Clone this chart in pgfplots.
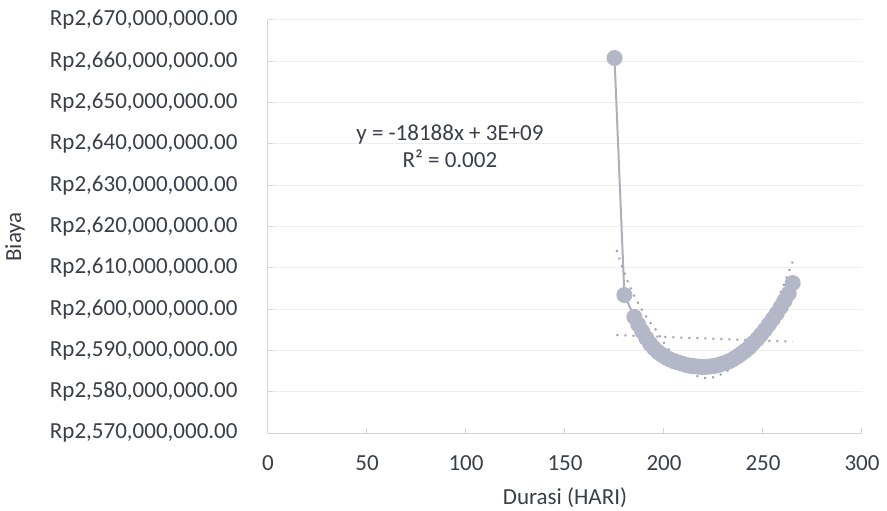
\documentclass[border=0pt]{standalone}
\usepackage{pgfplots}
\pgfplotsset{compat=1.18}
\usepackage{fontspec}
\setmainfont{Carlito}
\definecolor{txt}{HTML}{3A3E4B}
\definecolor{mk}{HTML}{B3B7C8}
\definecolor{ln}{HTML}{ABAFBF}
\definecolor{tr}{HTML}{9EA1AC}
\definecolor{grd}{HTML}{EEEEEE}
\definecolor{axl}{HTML}{D4D4D4}
\newcommand{\cf}{\fontsize{23bp}{27bp}\selectfont}
\begin{document}
\begin{tikzpicture}
\begin{axis}[
  scale only axis, width=594bp, height=413bp,
  xmin=0, xmax=300, ymin=2570000000, ymax=2670000000,
  xtick={0,50,100,150,200,250,300},
  ytick={2570000000,2580000000,2590000000,2600000000,2610000000,2620000000,2630000000,2640000000,2650000000,2660000000,2670000000},
  yticklabels={{Rp2,570,000,000.00},{Rp2,580,000,000.00},{Rp2,590,000,000.00},{Rp2,600,000,000.00},{Rp2,610,000,000.00},{Rp2,620,000,000.00},{Rp2,630,000,000.00},{Rp2,640,000,000.00},{Rp2,650,000,000.00},{Rp2,660,000,000.00},{Rp2,670,000,000.00}},
  scaled y ticks=false,
  /pgf/number format/assume math mode=true,
  axis x line*=bottom, axis y line*=left,
  axis line style={axl, line width=1bp, -},
  ymajorgrids, grid style={grd, line width=1bp},
  tick align=inside, major tick length=5bp, tick style={axl, line width=1bp},
  tick label style={font=\cf, text=txt},
  xticklabel style={anchor=center, yshift=-30bp},
  yticklabel style={anchor=east, xshift=-27bp},
  xlabel={Durasi (HARI)}, ylabel={Biaya},
  label style={font=\cf, text=txt},
  xlabel style={at={([yshift=-65bp]axis description cs:0.5,0)}, anchor=center},
  ylabel style={at={([xshift=-253bp,yshift=-10.5bp]axis description cs:0,0.5)}, anchor=center},
  clip=false,
]
\addplot[color=ln, line width=2bp, mark=*, mark size=7bp, mark options={fill=mk, draw=mk}] table {
x y
175 2660800000
180 2603400000
185 2598100000
187 2596300000
189 2594600000
191 2593000000
193 2591600000
195 2590500000
197 2589600000
199 2588900000
201 2588300000
203 2587800000
205 2587400000
207 2587100000
209 2586800000
211 2586500000
213 2586300000
215 2586200000
217 2586100000
219 2586000000
221 2586000000
223 2586100000
225 2586200000
227 2586400000
229 2586700000
231 2587000000
233 2587400000
235 2587900000
237 2588500000
239 2589200000
241 2589900000
243 2590700000
245 2591700000
247 2592700000
249 2593800000
251 2595000000
253 2596300000
255 2597600000
257 2599000000
259 2600500000
261 2602100000
263 2603800000
265 2606300000
};
\addplot[color=tr, line width=2bp, dash pattern=on 2bp off 6bp, mark=none] table {
x y
176 2593700000
265 2592100000
};
\addplot[color=tr, line width=2bp, dash pattern=on 2bp off 6bp, mark=none] table {
x y
176 2614300000
179 2610000000
182 2606300000
185 2603200000
188 2600500000
192 2597400000
196 2594900000
200 2591800000
205 2588400000
210 2585800000
215 2584000000
220 2583300000
225 2583500000
230 2584400000
235 2586000000
240 2588400000
245 2591500000
250 2595300000
255 2599800000
260 2605200000
265 2611500000
};
\node[font=\cf, text=txt, align=center] at (axis cs:91.9,2639400000) {y = -18188x + 3E+09\\R² = 0.002};
\end{axis}
\pgfresetboundingbox
\path[use as bounding box] ([xshift=-268bp,yshift=-78bp]current axis.south west) rectangle ([xshift=25bp,yshift=20bp]current axis.north east);
\end{tikzpicture}
\end{document}
